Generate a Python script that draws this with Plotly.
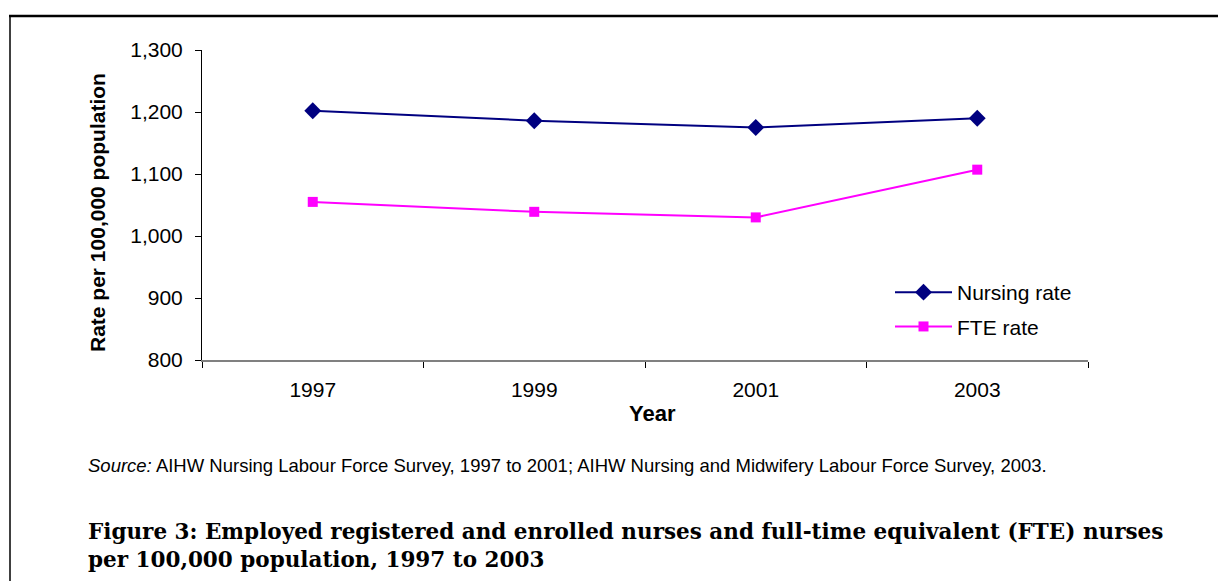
import plotly.graph_objects as go

years = ["1997", "1999", "2001", "2003"]
nursing_rate = [1202, 1186, 1175, 1190]
fte_rate = [1055, 1039, 1030, 1107]
y_ticks = [800, 900, 1000, 1100, 1200, 1300]

# page has an 8px body margin; work in page (reference) pixel coordinates
OFF = 8
W, H = 1226 - OFF, 581 - OFF
PLOT_L, PLOT_R, PLOT_T, PLOT_B = 202, 1088, 50, 360
L = PLOT_L - OFF
T = PLOT_T - OFF
R = W - (PLOT_R - OFF)
B = H - (PLOT_B - OFF)
PW, PH = PLOT_R - PLOT_L, PLOT_B - PLOT_T


def px(x):
    return (x - PLOT_L) / PW


def py(y):
    return (PLOT_B - y) / PH


fig = go.Figure()
fig.add_trace(go.Scatter(
    x=years, y=nursing_rate, name="Nursing rate", mode="lines+markers",
    legendgroup="a",
    line=dict(color="#000080", width=2),
    marker=dict(symbol="diamond", size=13, color="#000080"),
))
fig.add_trace(go.Scatter(
    x=years, y=fte_rate, name="FTE rate", mode="lines+markers",
    legendgroup="b",
    line=dict(color="#FF00FF", width=2),
    marker=dict(symbol="square", size=10, color="#FF00FF"),
))

fig.update_layout(
    width=W, height=H,
    margin=dict(l=L, r=R, t=T, b=B, pad=0),
    paper_bgcolor="white", plot_bgcolor="white",
    font=dict(family="Liberation Sans, Arial", size=21, color="black"),
    showlegend=True,
    legend=dict(x=px(890), y=py(272), xanchor="left", yanchor="top",
                bgcolor="rgba(0,0,0,0)", font=dict(size=21),
                tracegroupgap=4, itemwidth=57),
    xaxis=dict(
        type="category", range=[-0.5, 3.5], tickson="boundaries",
        ticks="outside", ticklen=6, tickcolor="black", tickwidth=1,
        ticklabelstandoff=10,
        showline=True, linecolor="#808080", linewidth=2,
        showgrid=False, zeroline=False,
    ),
    yaxis=dict(
        range=[800, 1300], tickvals=y_ticks, tickformat=",d",
        ticks="outside", ticklen=6, tickcolor="black",
        ticklabelstandoff=8,
        showline=True, linecolor="black", linewidth=1,
        showgrid=False, zeroline=False,
    ),
)

# axis titles
fig.add_annotation(
    xref="paper", yref="paper", x=px(97), y=py(213), xanchor="center", yanchor="middle",
    text="<b>Rate per 100,000 population</b>", textangle=-90, showarrow=False,
    font=dict(family="Liberation Sans, Arial", size=21),
)
fig.add_annotation(
    xref="paper", yref="paper", x=px(652), y=py(413), xanchor="center", yanchor="middle",
    text="<b>Year</b>", showarrow=False,
    font=dict(family="Liberation Sans, Arial", size=22),
)

# frame lines
fig.add_shape(type="line", xref="paper", yref="paper",
              x0=px(9), x1=px(1230), y0=py(16), y1=py(16),
              line=dict(color="black", width=2.5))
fig.add_shape(type="line", xref="paper", yref="paper",
              x0=px(10), x1=px(10), y0=py(16), y1=py(590),
              line=dict(color="black", width=1.5))

fig.add_annotation(
    xref="paper", yref="paper", x=px(86), y=py(465), xanchor="left", yanchor="middle",
    text="<i>Source:</i> AIHW Nursing Labour Force Survey, 1997 to 2001; AIHW Nursing and Midwifery Labour Force Survey, 2003.",
    showarrow=False, font=dict(family="Liberation Sans, Arial", size=18.5),
)
fig.add_annotation(
    xref="paper", yref="paper", x=px(86), y=py(545), xanchor="left", yanchor="middle",
    align="left",
    text="<b>Figure 3: Employed registered and enrolled nurses and full-time equivalent (FTE) nurses<br>per 100,000 population, 1997 to 2003</b>",
    showarrow=False, font=dict(family="DejaVu Serif, Liberation Serif", size=21.5),
)

fig.write_html("out.html")
